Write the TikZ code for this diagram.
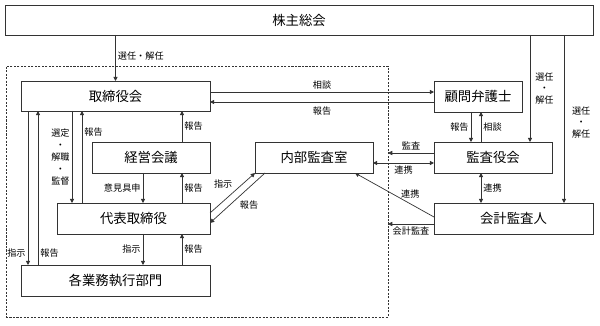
\documentclass[tikz,border=0pt]{standalone}
\usepackage{fontspec}
\setmainfont{Noto Sans CJK JP}
\usetikzlibrary{arrows.meta, positioning}

\begin{document}
\begin{tikzpicture}[x=0.025cm, y=-0.025cm,
  box/.style={draw=black!80, line width=0.5pt, inner sep=0pt, outer sep=0pt,
              minimum height=0.775cm, font=\fontsize{9.5}{11}\selectfont},
  lbl/.style={font=\fontsize{6.5}{8.4}\selectfont, inner sep=1.5pt, align=center},
  arr/.style={draw=black!80, line width=0.5pt, -{Triangle[length=3pt,width=3pt]}},
  both/.style={arr, {Triangle[length=3pt,width=3pt]}-{Triangle[length=3pt,width=3pt]}},
  grpbox/.style={draw=black!80, line width=0.5pt, dash pattern=on 1.5pt off 1pt,
                 inner sep=0pt, outer sep=0pt}
]
\useasboundingbox (0,0) rectangle (600,326);

% Boxes
\node[box, minimum width=14.7cm, minimum height=0.75cm] (kabu) at (299,20) {株主総会};
\node[grpbox, minimum width=9.55cm, minimum height=6.275cm] (grp) at (197,191.5) {};
\node[box, minimum width=4.725cm, minimum height=0.75cm] (tori) at (115.5,96) {取締役会};
\node[box, minimum width=2.2cm] (komon) at (478,96.5) {顧問弁護士};
\node[box, minimum width=2.95cm] (keiei) at (151,157.5) {経営会議};
\node[box, minimum width=2.95cm] (naibu) at (314,157.5) {内部監査室};
\node[box, minimum width=2.95cm] (kansa) at (493,157.5) {監査役会};
\node[box, minimum width=3.825cm] (daihyo) at (133.5,218.5) {代表取締役};
\node[box, minimum width=3.975cm] (kaikei) at (513.5,218.5) {会計監査人};
\node[box, minimum width=4.725cm] (gyomu) at (115.5,280.5) {各業務執行部門};

% from the shareholders' meeting
\draw[arr] (kabu.south -| tori.north) -- (tori.north) node[lbl, pos=0.45, right] {選任・解任};
\draw[arr] (kabu.south -| 530,0) -- (kansa.north -| 530,0) node[lbl, pos=0.5, right=2pt] {選任\\・\\解任};
\draw[arr] (kabu.south -| 564,0) -- (kaikei.north -| 564,0) node[lbl, pos=0.52, right=4pt] {選任\\・\\解任};

% lawyer
\draw[arr] (tori.east |- 0,92) -- (komon.west |- 0,92) node[lbl, midway, above] {相談};
\draw[arr] (komon.west |- 0,102) -- (tori.east |- 0,102) node[lbl, midway, below=2pt] {報告};
\draw[arr] (komon.south -| 471,0) -- (kansa.north -| 471,0) node[lbl, midway, left] {報告};
\draw[arr] (kansa.north -| 481,0) -- (komon.south -| 481,0) node[lbl, midway, right] {相談};

% auditors
\draw[arr] (kansa.west |- 0,153) -- (grp.east |- 0,153) node[lbl, midway, above] {監査};
\draw[both] (naibu.east |- 0,163) -- (kansa.west |- 0,163) node[lbl, midway, below] {連携};
\draw[both] (kansa.south -| 481,0) -- (kaikei.north -| 481,0) node[lbl, midway, right] {連携};
\draw[arr] (kaikei.west |- 0,217) -- (naibu.south -| 355,0) node[lbl, pos=0.3, above=2pt] {連携};
\draw[arr] (kaikei.west |- 0,224) -- (grp.east |- 0,224) node[lbl, midway, below] {会計監査};

% board
\draw[arr] (tori.south -| 28,0) -- (gyomu.north -| 28,0) node[lbl, pos=0.92, left] {指示};
\draw[arr] (gyomu.north -| 38,0) -- (tori.south -| 38,0) node[lbl, pos=0.08, right] {報告};
\draw[arr] (tori.south -| 72,0) -- (daihyo.north -| 72,0) node[lbl, midway, left] {選定\\・\\解職\\・\\監督};
\draw[arr] (daihyo.north -| 82,0) -- (tori.south -| 82,0) node[lbl, pos=0.77, right] {報告};
\draw[arr] (keiei.north -| 182,0) -- (tori.south -| 182,0) node[lbl, midway, right] {報告};

% representative director
\draw[arr] (keiei.south -| 143,0) -- (daihyo.north -| 143,0) node[lbl, midway, left] {意見具申};
\draw[arr] (daihyo.north -| 182,0) -- (keiei.south -| 182,0) node[lbl, midway, right] {報告};
\draw[arr] (daihyo.south -| 143,0) -- (gyomu.north -| 143,0) node[lbl, midway, left] {指示};
\draw[arr] (gyomu.north -| 182,0) -- (daihyo.south -| 182,0) node[lbl, midway, right] {報告};
\draw[arr] (daihyo.east |- 0,213) -- (naibu.south west) node[lbl, pos=0.55, above left=0pt] {指示};
\draw[arr] (naibu.south -| 265,0) -- (daihyo.east |- 0,223) node[lbl, midway, below right=0pt] {報告};
\end{tikzpicture}
\end{document}
